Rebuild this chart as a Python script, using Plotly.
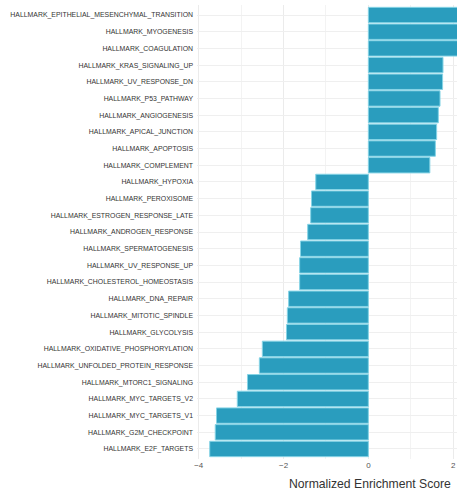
import plotly.graph_objects as go

# Hallmark gene sets, ordered top to bottom
pathways = [
    "HALLMARK_EPITHELIAL_MESENCHYMAL_TRANSITION",
    "HALLMARK_MYOGENESIS",
    "HALLMARK_COAGULATION",
    "HALLMARK_KRAS_SIGNALING_UP",
    "HALLMARK_UV_RESPONSE_DN",
    "HALLMARK_P53_PATHWAY",
    "HALLMARK_ANGIOGENESIS",
    "HALLMARK_APICAL_JUNCTION",
    "HALLMARK_APOPTOSIS",
    "HALLMARK_COMPLEMENT",
    "HALLMARK_HYPOXIA",
    "HALLMARK_PEROXISOME",
    "HALLMARK_ESTROGEN_RESPONSE_LATE",
    "HALLMARK_ANDROGEN_RESPONSE",
    "HALLMARK_SPERMATOGENESIS",
    "HALLMARK_UV_RESPONSE_UP",
    "HALLMARK_CHOLESTEROL_HOMEOSTASIS",
    "HALLMARK_DNA_REPAIR",
    "HALLMARK_MITOTIC_SPINDLE",
    "HALLMARK_GLYCOLYSIS",
    "HALLMARK_OXIDATIVE_PHOSPHORYLATION",
    "HALLMARK_UNFOLDED_PROTEIN_RESPONSE",
    "HALLMARK_MTORC1_SIGNALING",
    "HALLMARK_MYC_TARGETS_V2",
    "HALLMARK_MYC_TARGETS_V1",
    "HALLMARK_G2M_CHECKPOINT",
    "HALLMARK_E2F_TARGETS",
]

# Normalized enrichment scores
nes = [
    2.45, 2.30, 2.20, 1.76, 1.75, 1.69, 1.65, 1.61, 1.58, 1.45,
    -1.24, -1.34, -1.36, -1.43, -1.60, -1.62, -1.62, -1.88, -1.91, -1.93,
    -2.50, -2.57, -2.85, -3.09, -3.58, -3.61, -3.74,
]

x_ticks = [-4, -2, 0, 2]
x_tick_text = ["\u22124", "\u22122", "0", "2"]

fig = go.Figure(
    go.Bar(
        x=nes,
        y=pathways,
        orientation="h",
        marker=dict(color="#2a9dbe", line=dict(color="#86d4e6", width=1)),
        hoverinfo="x+y",
    )
)

n = len(pathways)
fig.update_layout(
    width=457,
    height=494,
    margin=dict(l=197, r=0, t=5, b=35),
    paper_bgcolor="white",
    plot_bgcolor="white",
    bargap=0.08,
    showlegend=False,
    font=dict(family="Liberation Sans, Arial, sans-serif", color="#333333"),
    xaxis=dict(
        range=[-4.04, 2.09],
        tickvals=x_ticks,
        ticktext=x_tick_text,
        tickfont=dict(size=8, color="#555555"),
        showgrid=True,
        gridcolor="#ebebeb",
        gridwidth=1,
        minor=dict(dtick=1, tick0=0, showgrid=True, gridcolor="#f3f3f3", gridwidth=0.6),
        zeroline=False,
        showline=False,
        ticks="",
        fixedrange=True,
    ),
    yaxis=dict(
        categoryorder="array",
        categoryarray=pathways,
        range=[n - 0.4, -0.6],
        tickfont=dict(size=6.9, color="#333333"),
        showgrid=True,
        gridcolor="#efefef",
        gridwidth=1,
        zeroline=False,
        showline=False,
        ticks="",
        ticklabelstandoff=3,
        fixedrange=True,
    ),
    annotations=[
        dict(
            text="Normalized Enrichment Score",
            xref="paper",
            yref="paper",
            x=0.985,
            y=-0.055,
            xanchor="right",
            yanchor="middle",
            showarrow=False,
            font=dict(size=12.2, color="#333333"),
        )
    ],
)

fig.write_html("out.html")
